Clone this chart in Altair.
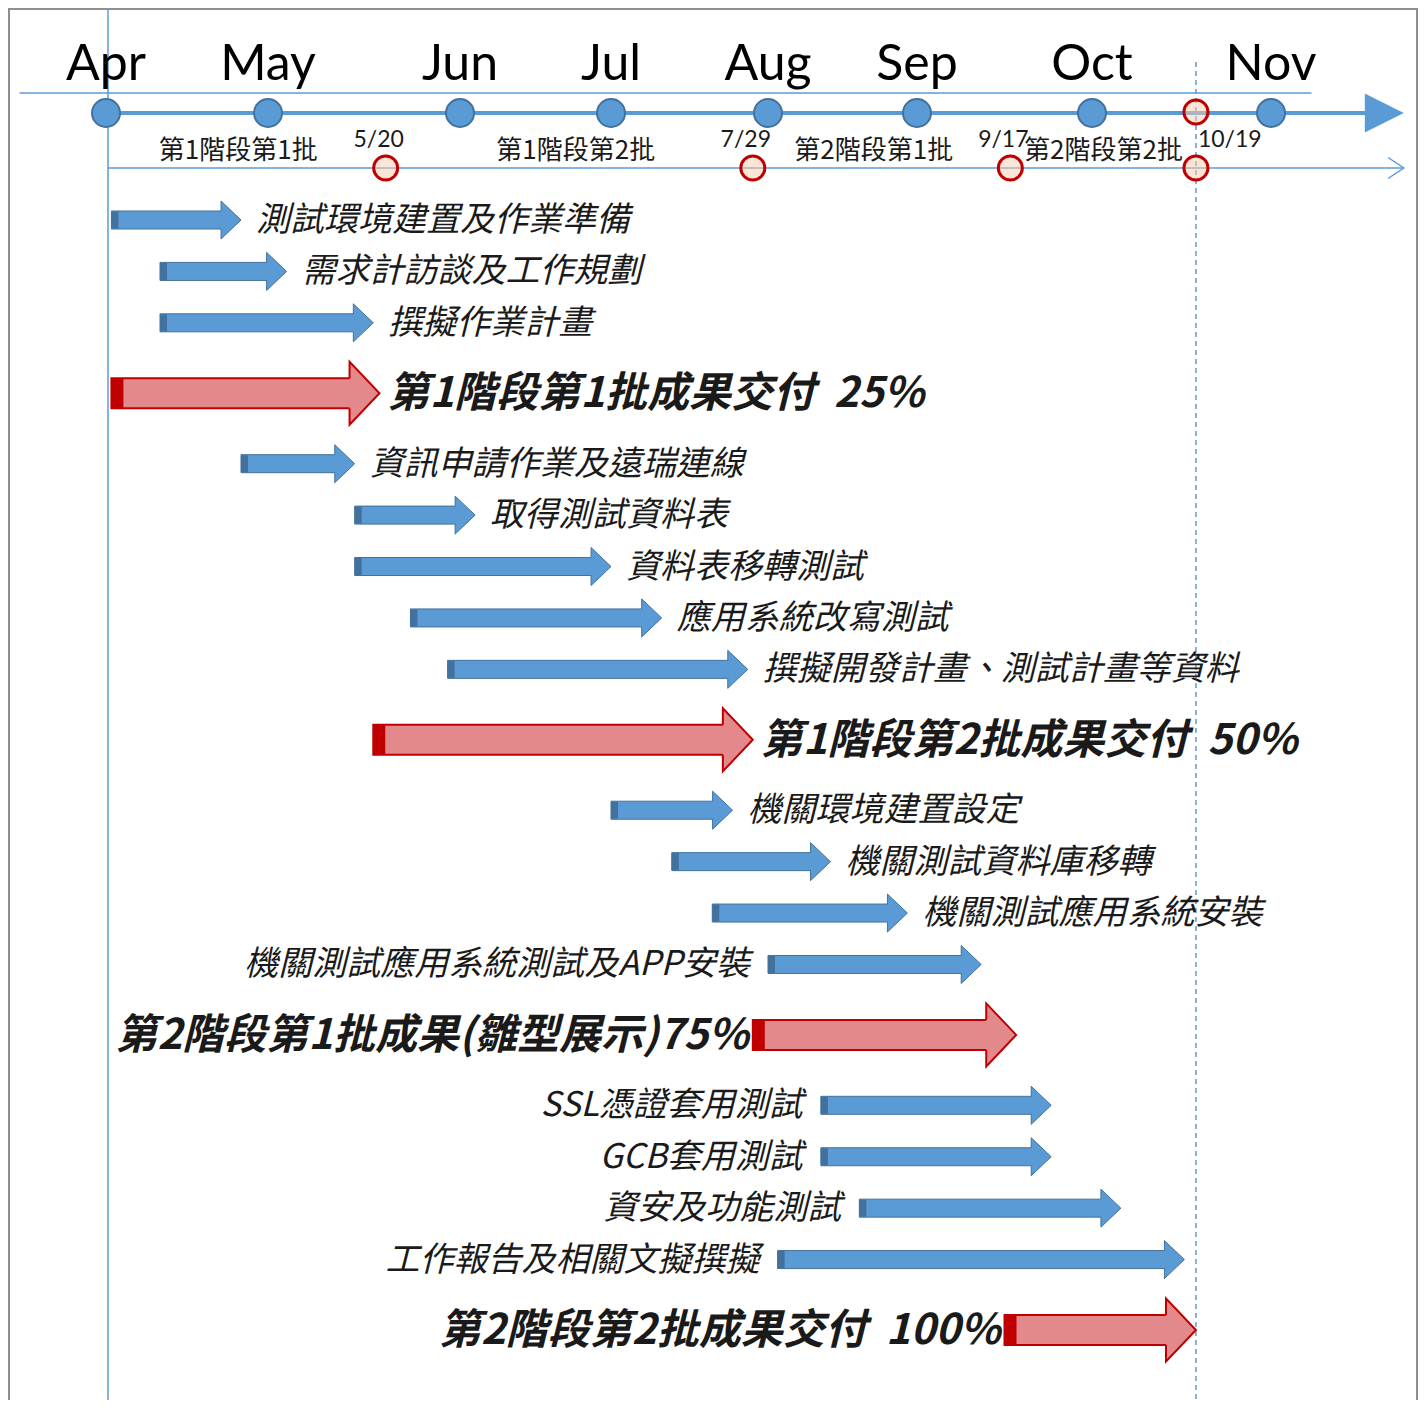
import altair as alt
import pandas as pd

YEAR = 2021

# ---------------- data ----------------
MONTHS = ["Apr", "May", "Jun", "Jul", "Aug", "Sep", "Oct", "Nov"]
MONTH_STARTS = ["4/1", "5/1", "6/1", "7/1", "8/1", "9/1", "10/1", "11/1"]

PHASE_NAMES = ["第1階段第1批", "第1階段第2批", "第2階段第1批", "第2階段第2批"]
PHASE_BOUNDS = ["4/1", "5/20", "7/29", "9/17", "10/19"]
MILESTONES = ["5/20", "7/29", "9/17", "10/19"]

RULER_SPAN = ["3/16", "11/8"]     # thin line under the month names
AXIS_SPAN = ["4/1", "11/24"]      # timeline arrow

TASKS = [
    "測試環境建置及作業準備",
    "需求計訪談及工作規劃",
    "撰擬作業計畫",
    "第1階段第1批成果交付\u00a0\u00a025%",
    "資訊申請作業及遠瑞連線",
    "取得測試資料表",
    "資料表移轉測試",
    "應用系統改寫測試",
    "撰擬開發計畫、測試計畫等資料",
    "第1階段第2批成果交付\u00a0\u00a050%",
    "機關環境建置設定",
    "機關測試資料庫移轉",
    "機關測試應用系統安裝",
    "機關測試應用系統測試及APP安裝",
    "第2階段第1批成果(雛型展示)75%",
    "SSL憑證套用測試",
    "GCB套用測試",
    "資安及功能測試",
    "工作報告及相關文擬撰擬",
    "第2階段第2批成果交付\u00a0\u00a0100%",
]
STARTS = ["4/2", "4/11", "4/11", "4/2", "4/26", "5/15", "5/15", "5/24", "5/30", "5/18",
          "7/1", "7/13", "7/21", "8/1", "7/29", "8/12", "8/12", "8/20", "8/3", "9/16"]
ENDS = ["4/26", "5/4", "5/18", "5/19", "5/15", "6/4", "7/1", "7/11", "7/28", "7/29",
        "7/25", "8/14", "8/30", "9/12", "9/18", "9/24", "9/24", "10/6", "10/17", "10/19"]
KINDS = ["task", "task", "task", "deliv", "task", "task", "task", "task", "task", "deliv",
         "task", "task", "task", "task", "deliv", "task", "task", "task", "task", "deliv"]
SIDES = ["right"] * 13 + ["left"] * 7


def day(md):
    m, d = (int(v) for v in md.split("/"))
    return (pd.Timestamp(YEAR, m, d) - pd.Timestamp(YEAR, 4, 1)).days


# row positions: deliverable rows take more room than task rows
half = [0.5 if k == "task" else 0.87 for k in KINDS]
pos = [0.0]
for i in range(1, len(half)):
    pos.append(pos[-1] + half[i - 1] + half[i])

tasks_df = pd.DataFrame({
    "name": TASKS,
    "start_d": [day(s) for s in STARTS],
    "end_d": [day(e) for e in ENDS],
    "kind": KINDS,
    "side": SIDES,
    "pos": pos,
})
months_df = pd.DataFrame({"month": MONTHS, "d": [day(m) for m in MONTH_STARTS]})
ms_df = pd.DataFrame({"label": MILESTONES, "d": [day(m) for m in MILESTONES]})
phase_df = pd.DataFrame({
    "phase": PHASE_NAMES,
    "mid": [(day(a) + day(b)) / 2 for a, b in zip(PHASE_BOUNDS[:-1], PHASE_BOUNDS[1:])],
})
ruler_df = pd.DataFrame({"d0": [day(RULER_SPAN[0])], "d1": [day(RULER_SPAN[1])]})
axis_df = pd.DataFrame({"d0": [day(AXIS_SPAN[0])], "d1": [day(AXIS_SPAN[1])]})
one_df = pd.DataFrame({"k": [0]})

# ---------------- style ----------------
W, H = 1410, 1392
BLUE = "#5B9BD5"
BLUE_DARK = "#41719C"
RED = "#C00000"
RED_FILL = "#E3898B"
PEACH = "#F8CBAD"
FRAME = "#8f8f8f"
TXT = "#1a1a1a"
CJK = "Noto Sans CJK TC"
LAT = "Lato"

Y_MONTH, Y_RULER, Y_AXIS, Y_DATE, Y_PHASE, Y_SUB = 72, 85, 105, 132, 143, 160

xs = alt.Scale(domain=[day(m) for m in MONTH_STARTS],
               range=[98, 260, 452, 603, 760, 909, 1084, 1263],
               nice=False, zero=False)
ys = alt.Scale(domain=[pos[0], pos[-1]], range=[212, 1322], nice=False, zero=False)


def X(f):
    return alt.X(f"{f}:Q", scale=xs, axis=None)


def Y(f):
    return alt.Y(f"{f}:Q", scale=ys, axis=None)


layers = []

# frame
layers.append(alt.Chart(one_df).mark_rule(color=FRAME, strokeWidth=2).encode(
    x=alt.value(1), y=alt.value(0), y2=alt.value(H)))
layers.append(alt.Chart(one_df).mark_rule(color=FRAME, strokeWidth=2).encode(
    x=alt.value(W - 1), y=alt.value(0), y2=alt.value(H)))
layers.append(alt.Chart(one_df).mark_rule(color=FRAME, strokeWidth=2).encode(
    x=alt.value(0), x2=alt.value(W), y=alt.value(1)))

# vertical start line and dashed end line
layers.append(alt.Chart(months_df.head(1)).mark_rule(color=BLUE, strokeWidth=1.5, xOffset=2).encode(
    x=X("d"), y=alt.value(0), y2=alt.value(H)))
layers.append(alt.Chart(ms_df.tail(1)).mark_rule(color=BLUE, strokeWidth=1.5, strokeDash=[5, 4]).encode(
    x=X("d"), y=alt.value(54), y2=alt.value(H)))

# header lines
layers.append(alt.Chart(ruler_df).mark_rule(color=BLUE, strokeWidth=1.5).encode(
    x=X("d0"), x2="d1:Q", y=alt.value(Y_RULER)))
layers.append(alt.Chart(axis_df).mark_rule(color=BLUE, strokeWidth=4, x2Offset=-20).encode(
    x=X("d0"), x2="d1:Q", y=alt.value(Y_AXIS)))
layers.append(alt.Chart(axis_df).mark_point(
    shape="M-2,-1L0,0L-2,1Z", size=1521, filled=True, fill=BLUE, strokeWidth=0, opacity=1).encode(
    x=X("d1"), y=alt.value(Y_AXIS)))
layers.append(alt.Chart(axis_df).mark_rule(color=BLUE, strokeWidth=1.5, xOffset=2).encode(
    x=X("d0"), x2="d1:Q", y=alt.value(Y_SUB)))
layers.append(alt.Chart(axis_df).mark_point(
    shape="M-1.5,-1L0,0L-1.5,1", size=441, filled=False, stroke=BLUE, strokeWidth=1.5, opacity=1).encode(
    x=X("d1"), y=alt.value(Y_SUB)))

# month dots and milestone circles
layers.append(alt.Chart(months_df).mark_point(
    shape="circle", size=784, filled=True, fill=BLUE, stroke=BLUE_DARK, strokeWidth=2, opacity=1).encode(
    x=X("d"), y=alt.value(Y_AXIS)))
layers.append(alt.Chart(ms_df.tail(1)).mark_point(
    shape="circle", size=576, filled=True, fill=PEACH, fillOpacity=0.5, stroke=RED, strokeWidth=3,
    opacity=1).encode(x=X("d"), y=alt.value(Y_AXIS - 1)))
layers.append(alt.Chart(ms_df).mark_point(
    shape="circle", size=576, filled=True, fill=PEACH, fillOpacity=0.5, stroke=RED, strokeWidth=3,
    opacity=1).encode(x=X("d"), y=alt.value(Y_SUB)))

# header texts
layers.append(alt.Chart(months_df).mark_text(
    font=LAT, fontSize=50, color="black", baseline="alphabetic", align="center").encode(
    x=X("d"), y=alt.value(Y_MONTH), text="month:N"))
layers.append(alt.Chart(ms_df.head(3)).mark_text(
    font=LAT, fontSize=23, color=TXT, baseline="middle", align="center", dx=-7).encode(
    x=X("d"), y=alt.value(Y_DATE), text="label:N"))
layers.append(alt.Chart(ms_df.tail(1)).mark_text(
    font=LAT, fontSize=23, color=TXT, baseline="middle", align="left", dx=2).encode(
    x=X("d"), y=alt.value(Y_DATE), text="label:N"))
layers.append(alt.Chart(phase_df).mark_text(
    font=CJK, fontSize=26, color=TXT, baseline="middle", align="center").encode(
    x=X("mid"), y=alt.value(Y_PHASE), text="phase:N"))

# arrows
base = alt.Chart(tasks_df)
is_task = alt.datum.kind == "task"
is_deliv = alt.datum.kind == "deliv"

PATH_BLUE = "M-1.05,-0.47L-1.05,-1L0,0L-1.05,1L-1.05,0.47"
PATH_RED = "M-0.95,-0.48L-0.95,-1L0,0L-0.95,1L-0.95,0.48"

layers.append(base.transform_filter(is_task).mark_rect(
    fill=BLUE, stroke=BLUE_DARK, strokeWidth=1, yOffset=-9, y2Offset=9, x2Offset=-17).encode(
    x=X("start_d"), x2="end_d:Q", y=Y("pos"), y2="pos:Q"))
layers.append(base.transform_filter(is_task).mark_rect(
    fill=BLUE_DARK, strokeWidth=0, yOffset=-8.5, y2Offset=8.5, x2Offset=7).encode(
    x=X("start_d"), x2="start_d:Q", y=Y("pos"), y2="pos:Q"))
layers.append(base.transform_filter(is_task).mark_point(
    shape=PATH_BLUE, size=1444, filled=True, fill=BLUE, stroke=BLUE_DARK, strokeWidth=1, opacity=1).encode(
    x=X("end_d"), y=Y("pos")))

layers.append(base.transform_filter(is_deliv).mark_rect(
    fill=RED_FILL, stroke=RED, strokeWidth=2, yOffset=-15, y2Offset=15, x2Offset=-27).encode(
    x=X("start_d"), x2="end_d:Q", y=Y("pos"), y2="pos:Q"))
layers.append(base.transform_filter(is_deliv).mark_rect(
    fill=RED, strokeWidth=0, yOffset=-15, y2Offset=15, x2Offset=12).encode(
    x=X("start_d"), x2="start_d:Q", y=Y("pos"), y2="pos:Q"))
layers.append(base.transform_filter(is_deliv).mark_point(
    shape=PATH_RED, size=3969, filled=True, fill=RED_FILL, stroke=RED, strokeWidth=2, opacity=1).encode(
    x=X("end_d"), y=Y("pos")))

# labels
layers.append(base.transform_filter(is_task & (alt.datum.side == "right")).mark_text(
    align="left", dx=15, dy=1, font=CJK, fontSize=34, fontStyle="italic", color=TXT, baseline="middle").encode(
    x=X("end_d"), y=Y("pos"), text="name:N"))
layers.append(base.transform_filter(is_task & (alt.datum.side == "left")).mark_text(
    align="right", dx=-18, dy=1, font=CJK, fontSize=34, fontStyle="italic", color=TXT, baseline="middle").encode(
    x=X("start_d"), y=Y("pos"), text="name:N"))
layers.append(base.transform_filter(is_deliv & (alt.datum.side == "right")).mark_text(
    align="left", dx=8, dy=1, font=CJK, fontSize=42, fontStyle="italic", fontWeight="bold", color=TXT,
    baseline="middle").encode(x=X("end_d"), y=Y("pos"), text="name:N"))
layers.append(base.transform_filter(is_deliv & (alt.datum.side == "left")).mark_text(
    align="right", dx=-4, dy=1, font=CJK, fontSize=42, fontStyle="italic", fontWeight="bold", color=TXT,
    baseline="middle").encode(x=X("start_d"), y=Y("pos"), text="name:N"))

chart = alt.layer(*layers).properties(
    width=W, height=H, padding=0, autosize="none"
).configure_view(stroke=None)

chart.save("out.html", embed_options={"renderer": "svg", "actions": False})
